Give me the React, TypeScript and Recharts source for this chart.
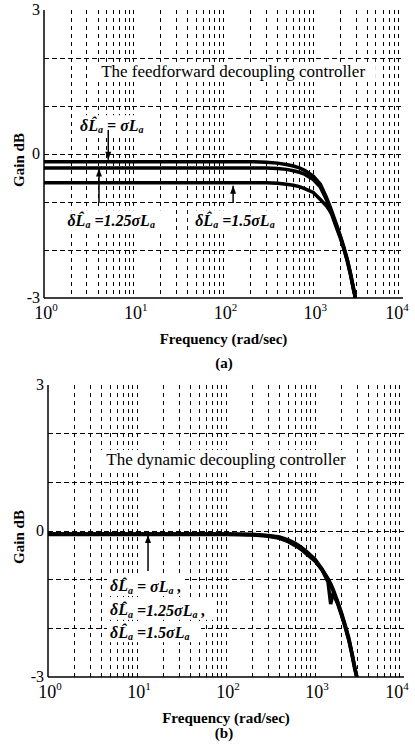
import React from 'react';
import { LineChart, Line, XAxis, YAxis, CartesianGrid, ReferenceLine } from 'recharts';

// frequency points (rad/sec)
const freqs = [1, 10, 100, 200, 300, 400, 500, 600, 700, 800, 1000, 1200, 1400, 1500, 1600, 1800, 2000, 2200, 2400, 2600, 2800, 2950];

// (a) feedforward decoupling controller, gain in dB
const ffSigma = [-0.16, -0.16, -0.16, -0.16, -0.17, -0.19, -0.22, -0.25, -0.29, -0.34, -0.46, -0.63, -0.9, -1.04, -1.18, -1.45, -1.7, -1.95, -2.2, -2.48, -2.78, -3.0];
const ff125 = [-0.29, -0.29, -0.29, -0.29, -0.29, -0.3, -0.32, -0.35, -0.38, -0.42, -0.53, -0.69, -0.95, -1.08, -1.22, -1.48, -1.72, -1.97, -2.22, -2.5, -2.8, -3.0];
const ff150 = [-0.6, -0.6, -0.6, -0.6, -0.6, -0.61, -0.63, -0.65, -0.68, -0.72, -0.8, -0.95, -1.08, -1.16, -1.25, -1.52, -1.75, -1.99, -2.24, -2.52, -2.82, -3.0];

// (b) dynamic decoupling controller
const dySigma = [-0.06, -0.06, -0.06, -0.07, -0.09, -0.12, -0.18, -0.25, -0.33, -0.42, -0.58, -0.78, -0.98, -1.08, -1.2, -1.45, -1.7, -1.95, -2.2, -2.5, -2.8, -3.0];
const dy125 = [-0.06, -0.06, -0.06, -0.07, -0.1, -0.14, -0.2, -0.27, -0.35, -0.44, -0.6, -0.8, -1.0, -1.12, -1.23, -1.48, -1.73, -1.98, -2.23, -2.52, -2.82, -3.0];
const dy150 = [-0.07, -0.07, -0.07, -0.08, -0.11, -0.15, -0.22, -0.3, -0.38, -0.47, -0.62, -0.8, -1.05, -1.5, -1.28, -1.5, -1.75, -2.0, -2.25, -2.54, -2.84, -3.0];

const decadeTicks = [1, 10, 100, 1000, 10000];
const gainTicks = [-3, 0, 3];
const gainGrid = [-2, -1, 0, 1, 2];
const freqGrid = [2, 3, 4, 5, 6, 7, 8, 9, 10, 20, 30, 40, 50, 60, 70, 80, 90, 100, 200, 300, 400, 500, 600, 700, 800, 900, 1000, 2000, 3000, 4000, 5000, 6000, 7000, 8000, 9000];

const ffData = freqs.map((f, i) => ({ f, a: ffSigma[i], b: ff125[i], c: ff150[i] }));
const dyData = freqs.map((f, i) => ({ f, a: dySigma[i], b: dy125[i], c: dy150[i] }));

const SERIF = "'Liberation Serif', 'Times New Roman', serif";

const XTick = (props: any) => {
  const { x, y, payload } = props;
  const exp = Math.round(Math.log10(payload.value));
  return (
    <text x={x + 2} y={y + 13} textAnchor="middle" fontFamily={SERIF} fontSize={18} fill="#000">
      10<tspan dy={-8} fontSize={11}>{exp}</tspan>
    </text>
  );
};

const YTick = (props: any) => {
  const { x, y, payload } = props;
  return (
    <text x={x + 4} y={y + 5} textAnchor="end" fontFamily={SERIF} fontSize={16} fill="#000">
      {payload.value}
    </text>
  );
};

const GainLabel = (props: any) => {
  const vb = props.viewBox || {};
  const cx = 19;
  const cy = vb.y + vb.height / 2 + 6;
  return (
    <text x={cx} y={cy} transform={`rotate(-90 ${cx} ${cy})`} textAnchor="middle" dominantBaseline="central"
      fontFamily={SERIF} fontSize={15} fontWeight="bold" fill="#000">
      Gain dB
    </text>
  );
};

const Arrow = (props: any) => {
  const { x1, y1, x2, y2 } = props;
  const dir = y2 > y1 ? 1 : -1;
  return (
    <g>
      <line x1={x1} y1={y1} x2={x2} y2={y2} stroke="#000" strokeWidth={1.5} />
      <polygon points={`${x2},${y2} ${x2 - 3},${y2 - dir * 8} ${x2 + 3},${y2 - dir * 8}`} fill="#000" />
    </g>
  );
};

// white box behind a label so the grid does not run through it
const backing = (x: number, y: number, w: number, anchor: 'start' | 'middle') => (
  <rect x={anchor === 'middle' ? x - w / 2 : x - 3} y={y - 10} width={w} height={20} fill="#fff" />
);

// text annotations are drawn as zero-length reference segments
const Title = (text: string) => (props: any) => (
  <g>
    {backing(props.x1, props.y1, text.length * 7.5 + 8, 'middle')}
    <text x={props.x1} y={props.y1} textAnchor="middle" dominantBaseline="central"
      fontFamily={SERIF} fontSize={17} fill="#000">
      {text}
    </text>
  </g>
);

// δL̂a = k σLa, italic bold with subscripts
const Delta = (k: string, anchor: 'start' | 'middle', tail = '') => (props: any) => (
  <g>
    {backing(props.x1, props.y1, 70 + k.trim().length * 8 + tail.length * 4, anchor)}
    <text x={props.x1} y={props.y1} textAnchor={anchor} dominantBaseline="central"
      fontFamily={SERIF} fontSize={16} fontStyle="italic" fontWeight="bold" fill="#000">
      δL̂<tspan dy={4} fontSize={10}>a</tspan>
      <tspan dy={-4}>{` =${k}σL`}</tspan>
      <tspan dy={4} fontSize={10}>a</tspan>
      <tspan dy={-4}>{tail}</tspan>
    </text>
  </g>
);

const at = (x: number, y: number) => [{ x, y }, { x, y }];

// minor log grid positions, through the axis scale when it is exposed
const vGrid = (p: any) => {
  const sc = p?.xAxis?.scale;
  return freqGrid.map((v) => {
    if (typeof sc === 'function') return sc(v);
    if (sc && typeof sc.map === 'function') return sc.map(v);
    const o = p.offset;
    return o.left + (o.width * Math.log10(v)) / 4;
  });
};

const Panel = ({ data, margin, children }: { data: any[]; margin: any; children?: React.ReactNode }) => (
  <LineChart width={415} height={370} data={data} margin={margin}>
    <CartesianGrid vertical={false} horizontalValues={gainGrid} stroke="#000" strokeWidth={1}
      strokeDasharray="5 3" shapeRendering="crispEdges" />
    <CartesianGrid horizontal={false} verticalCoordinatesGenerator={vGrid} stroke="#000" strokeWidth={1}
      strokeDasharray="4 4" shapeRendering="crispEdges" />
    <XAxis dataKey="f" type="number" scale="log" domain={[1, 10000]} ticks={decadeTicks} allowDataOverflow
      tick={<XTick />} tickLine={false} axisLine={{ stroke: '#000', strokeWidth: 1.5 }} height={50}
      label={{ value: 'Frequency (rad/sec)', position: 'insideBottom', offset: 4,
        style: { fontFamily: SERIF, fontSize: 15, fontWeight: 'bold', fill: '#000' } }} />
    <XAxis xAxisId="t" orientation="top" dataKey="f" type="number" scale="log" domain={[1, 10000]}
      allowDataOverflow tick={false} tickLine={false} height={0} axisLine={{ stroke: '#000', strokeWidth: 1.5 }} />
    <YAxis type="number" domain={[-3, 3]} ticks={gainTicks} allowDataOverflow width={30}
      tick={<YTick />} tickLine={false} axisLine={{ stroke: '#000', strokeWidth: 1.5 }} label={GainLabel} />
    <YAxis yAxisId="r" orientation="right" type="number" domain={[-3, 3]} width={0} tick={false}
      tickLine={false} axisLine={{ stroke: '#000', strokeWidth: 1.5 }} />
    <Line type="linear" dataKey="a" stroke="#000" strokeWidth={3.5} dot={false} isAnimationActive={false} />
    <Line type="linear" dataKey="b" stroke="#000" strokeWidth={3.5} dot={false} isAnimationActive={false} />
    <Line type="linear" dataKey="c" stroke="#000" strokeWidth={3.5} dot={false} isAnimationActive={false} />
    {children}
  </LineChart>
);

const caption = (top: number): React.CSSProperties => ({
  position: 'absolute', top, left: 0, width: 448, textAlign: 'center',
  fontFamily: SERIF, fontSize: 15, fontWeight: 'bold', lineHeight: '18px',
});

export default function App() {
  return (
    <div style={{ position: 'absolute', left: 0, top: 0, width: 415, height: 745, background: '#fff' }}>
      <div style={{ position: 'absolute', left: 0, top: 0 }}>
        <Panel data={ffData} margin={{ top: 10, right: 12, left: 14, bottom: 22 }}>
          <ReferenceLine segment={at(128, 1.71)} shape={Title('The feedforward decoupling controller')} />
          <ReferenceLine segment={at(5.7, 0.6)} shape={Delta(' ', 'middle')} />
          <ReferenceLine segment={[{ x: 5.2, y: 0.5 }, { x: 5.2, y: -0.12 }]} shape={Arrow} />
          <ReferenceLine segment={[{ x: 4.1, y: -1.02 }, { x: 4.1, y: -0.3 }]} shape={Arrow} />
          <ReferenceLine segment={[{ x: 128, y: -1.02 }, { x: 128, y: -0.66 }]} shape={Arrow} />
          <ReferenceLine segment={at(5.6, -1.38)} shape={Delta('1.25', 'middle')} />
          <ReferenceLine segment={at(134, -1.38)} shape={Delta('1.5', 'middle')} />
        </Panel>
      </div>
      <div style={caption(354)}>(a)</div>
      <div style={{ position: 'absolute', left: 0, top: 375 }}>
        <Panel data={dyData} margin={{ top: 10, right: 11, left: 18, bottom: 18 }}>
          <ReferenceLine segment={at(100, 1.46)} shape={Title('The dynamic decoupling controller')} />
          <ReferenceLine segment={[{ x: 13.3, y: -0.82 }, { x: 13.3, y: -0.08 }]} shape={Arrow} />
          <ReferenceLine segment={at(4.97, -1.13)} shape={Delta(' ', 'start', ' ,')} />
          <ReferenceLine segment={at(4.97, -1.62)} shape={Delta('1.25', 'start', ' ,')} />
          <ReferenceLine segment={at(4.97, -2.08)} shape={Delta('1.5', 'start')} />
        </Panel>
      </div>
      <div style={caption(724)}>(b)</div>
    </div>
  );
}
